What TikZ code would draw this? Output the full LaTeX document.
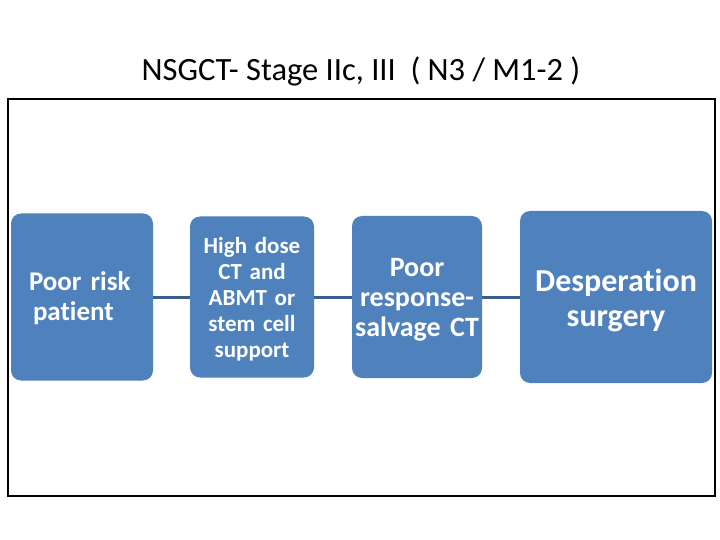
\documentclass[tikz,border=0pt]{standalone}
\usepackage{fontspec}
\setmainfont[Ligatures=NoCommon,BoldFeatures={WordSpace=0.75}]{Carlito}
\definecolor{boxblue}{HTML}{4F81BD}
\definecolor{linkblue}{HTML}{3B5F8C}
\begin{document}
\begin{tikzpicture}[x=1pt,y=-1pt,
  stagebox/.style={draw=none,fill=boxblue,rounded corners=10pt,inner sep=0pt},
  stagetext/.style={text=white,font=\bfseries,align=center,inner sep=0pt},
  link/.style={draw=linkblue,line width=3pt}]
\useasboundingbox[fill=white] (0,0) rectangle (720,540);
\node[font=\fontsize{32.5}{38}\selectfont] (title) at (361,71) {NSGCT- Stage IIc, III\ \ ( N3 / M1-2 )};
\node[draw=black,line width=2pt,minimum width=707pt,minimum height=397pt,inner sep=0pt] (frame) at (361.5,297.5) {};
\node[stagebox,minimum width=142pt,minimum height=167pt] (b1) at (82,297) {};
\node[stagebox,minimum width=124pt,minimum height=161pt] (b2) at (252,297) {};
\node[stagebox,minimum width=130pt,minimum height=162pt] (b3) at (417,297) {};
\node[stagebox,minimum width=192pt,minimum height=172pt] (b4) at (616,297) {};
\node[stagetext,text width=124pt,align=left,
  font=\bfseries\fontsize{27}{30}\selectfont] (t1) at (82,298.5) {\hspace*{9pt}Poor risk\\\hspace*{13pt}patient};
\node[stagetext,text width=120pt,
  font=\bfseries\fontsize{23}{26}\selectfont] (t2) at (252,299.5) {High dose\\CT and\\ABMT or\\stem cell\\support};
\node[stagetext,text width=128pt,
  font=\bfseries\fontsize{28}{30}\selectfont] (t3) at (417,300) {Poor\\response-\\salvage CT};
\node[stagetext,text width=188pt,
  font=\bfseries\fontsize{32}{35}\selectfont] (t4) at (616,300) {Desperation\\surgery};
\draw[link] (b1.east) -- (b2.west);
\draw[link] (b2.east) -- (b3.west);
\draw[link] (b3.east) -- (b4.west);
\end{tikzpicture}
\end{document}
